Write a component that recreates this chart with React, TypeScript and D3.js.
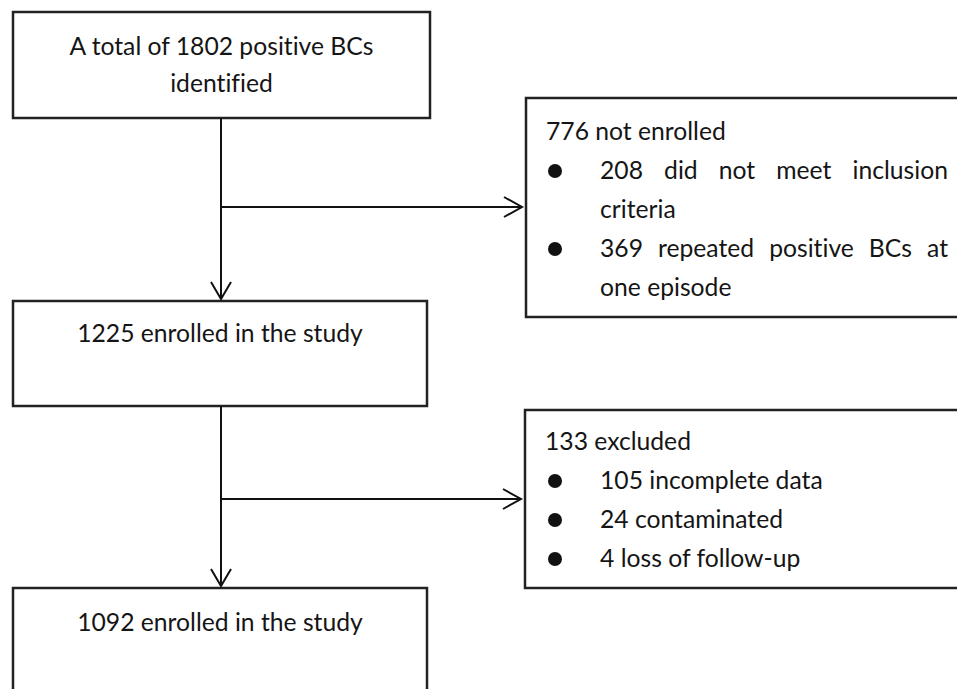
import React, { useEffect, useRef } from "react";
import * as d3 from "d3";

const width = 957;
const height = 689;

// left column: one entry per box, one string per text line
const mainSteps = [
  ["A total of 1802 positive BCs", "identified"],
  ["1225 enrolled in the study"],
  ["1092 enrolled in the study"],
];

// right column
const sideHeaders = ["776 not enrolled", "133 excluded"];
const notEnrolled = [
  ["208 did not meet inclusion", "criteria"],
  ["369 repeated positive BCs at", "one episode"],
];
const excluded = [["105 incomplete data"], ["24 contaminated"], ["4 loss of follow-up"]];
const sideItems = [notEnrolled, excluded];

// layout
const mainBoxes = [
  { x: 13, y: 12, w: 417, h: 106, textY: 55 },
  { x: 13, y: 301, w: 414, h: 105, textY: 342 },
  { x: 13, y: 588, w: 414, h: 140, textY: 631 },
];
const sideBoxes = [
  { x: 526, y: 98, h: 219, textY: 140 },
  { x: 525, y: 410, h: 178, textY: 450 },
];
const trunkX = 221;
const branchY = [207, 499];
const mainLineH = 37;
const sideLineH = 39;
const bulletX = 555;
const itemX = 600;
const itemRight = 948;
const fontFamily = "Lato, 'Open Sans', sans-serif";
const fontSize = 24.7;
const ink = "#151515";

function App() {
  const svgRef = useRef(null);

  useEffect(() => {
    const svg = d3.select(svgRef.current);
    svg.selectAll("*").remove();
    const g = svg.append("g")
      .attr("font-family", fontFamily)
      .attr("font-size", fontSize)
      .style("font-variant-ligatures", "none");
    const line = d3.line();

    // boxes
    mainBoxes.forEach((b, i) => {
      g.append("rect")
        .attr("x", b.x).attr("y", b.y).attr("width", b.w).attr("height", b.h)
        .attr("fill", "white").attr("stroke", "#222").attr("stroke-width", 2.5);
      mainSteps[i].forEach((t, j) => {
        g.append("text")
          .attr("x", b.x + b.w / 2)
          .attr("y", b.textY + j * mainLineH)
          .attr("text-anchor", "middle")
          .attr("fill", ink)
          .text(t);
      });
    });

    sideBoxes.forEach((b, i) => {
      g.append("rect")
        .attr("x", b.x).attr("y", b.y).attr("width", width - b.x + 20).attr("height", b.h)
        .attr("fill", "white").attr("stroke", "#222").attr("stroke-width", 2.5);
      g.append("text")
        .attr("x", b.x + 20)
        .attr("y", b.textY)
        .attr("fill", ink)
        .text(sideHeaders[i]);

      let row = 1;
      sideItems[i].forEach((lines) => {
        g.append("circle")
          .attr("cx", bulletX)
          .attr("cy", b.textY + row * sideLineH - 8)
          .attr("r", 7)
          .attr("fill", "#111");
        lines.forEach((t, j) => {
          const y = b.textY + row * sideLineH;
          const justify = lines.length > 1 && j < lines.length - 1;
          if (!justify) {
            g.append("text")
              .attr("x", itemX).attr("y", y)
              .attr("fill", ink).text(t);
          } else {
            // justified line: spread words across the full width
            const words = t.split(" ");
            const nodes = words.map((w) =>
              g.append("text").attr("y", y).attr("fill", ink).text(w)
            );
            const widths = nodes.map((n) => n.node().getComputedTextLength());
            const gap = (itemRight - itemX - d3.sum(widths)) / (words.length - 1);
            let x = itemX;
            nodes.forEach((n, k) => {
              n.attr("x", x);
              x += widths[k] + gap;
            });
          }
          row += 1;
        });
      });
    });

    // connectors
    const stroke = (sel) => sel.attr("fill", "none").attr("stroke", "#111").attr("stroke-width", 2);
    const downTips = [mainBoxes[1].y - 2, mainBoxes[2].y - 2];
    [0, 1].forEach((i) => {
      const top = mainBoxes[i].y + mainBoxes[i].h;
      g.append("path").attr("d", line([[trunkX, top], [trunkX, downTips[i]]])).call(stroke);
      g.append("path")
        .attr("d", line([[trunkX - 10, downTips[i] - 17], [trunkX, downTips[i]], [trunkX + 10, downTips[i] - 17]]))
        .call(stroke);
      const tip = sideBoxes[i].x - 4;
      g.append("path").attr("d", line([[trunkX, branchY[i]], [tip, branchY[i]]])).call(stroke);
      g.append("path")
        .attr("d", line([[tip - 18, branchY[i] - 10], [tip, branchY[i]], [tip - 18, branchY[i] + 10]]))
        .call(stroke);
    });
  }, []);

  return (
    <svg
      ref={svgRef}
      width={width}
      height={height}
      style={{ position: "absolute", left: 0, top: 0, background: "white" }}
    />
  );
}

export default App;
